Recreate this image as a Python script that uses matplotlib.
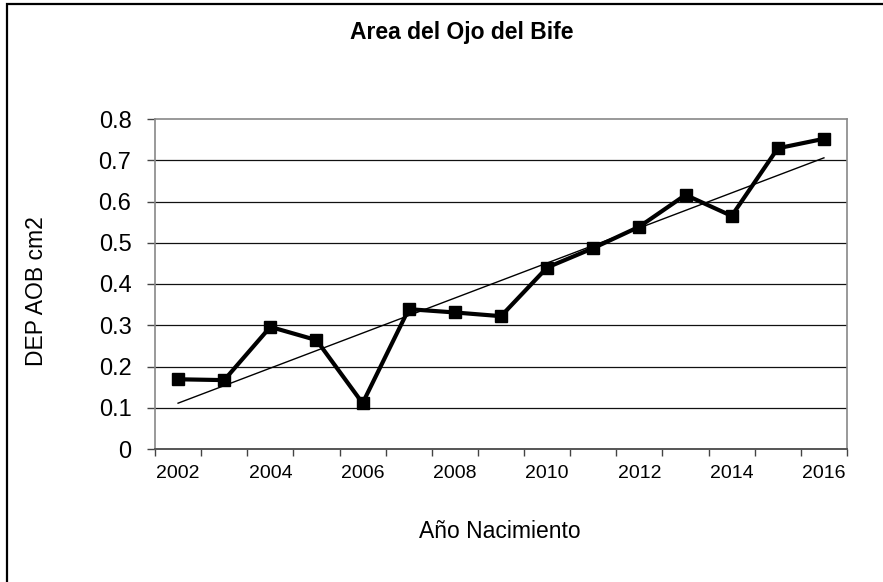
import numpy as np
import matplotlib
matplotlib.use("Agg")
import matplotlib.pyplot as plt
from matplotlib.patches import Rectangle

plt.rcParams['font.family'] = ['Liberation Sans', 'DejaVu Sans']

# data
years = [2002, 2003, 2004, 2005, 2006, 2007, 2008, 2009,
         2010, 2011, 2012, 2013, 2014, 2015, 2016]
dep_aob = [0.169, 0.167, 0.296, 0.264, 0.111, 0.339, 0.331, 0.322,
           0.440, 0.487, 0.539, 0.616, 0.565, 0.729, 0.752]
year_labels = ['2002', '2004', '2006', '2008', '2010', '2012', '2014', '2016']
y_ticks = [0, 0.1, 0.2, 0.3, 0.4, 0.5, 0.6, 0.7, 0.8]
y_labels = ['0', '0.1', '0.2', '0.3', '0.4', '0.5', '0.6', '0.7', '0.8']

W, H = 883, 582
fig = plt.figure(figsize=(W / 100, H / 100), dpi=100)
ax = fig.add_axes([155 / W, 1 - 449 / H, (847 - 155) / W, (449 - 119) / H])

# category axis like excel
x = np.arange(len(years))
coef = np.polyfit(x, dep_aob, 1)
trend = np.polyval(coef, x[[0, -1]])

# gridlines (top one is the frame)
for v in y_ticks[1:-1]:
    ax.axhline(v, color='#111111', lw=0.9, zorder=1)

ax.plot(x[[0, -1]], trend, color='black', lw=1.0, zorder=3)
ax.plot(x, dep_aob, color='black', lw=3.0, marker='s', markersize=8.5,
        zorder=4)

ax.set_xlim(-0.5, len(years) - 0.5)
ax.set_ylim(0, 0.8)

# ticks at category boundaries, labels every other year
ax.set_xticks(np.arange(-0.5, len(years), 1.0))
ax.set_xticklabels([])
ax.set_xticks(x[::2], minor=True)
ax.set_xticklabels(year_labels, minor=True, fontsize=14)
ax.tick_params(axis='x', which='major', length=5, width=1, color='#444444')
ax.tick_params(axis='x', which='minor', length=0, pad=11.5)

ax.set_yticks(y_ticks)
ax.set_yticklabels(y_labels, fontsize=17)
ax.tick_params(axis='y', length=6, width=1, color='#444444', pad=11)

for s in ['left', 'top', 'right']:
    ax.spines[s].set_color('#888888')
    ax.spines[s].set_linewidth(1.2)
ax.spines['bottom'].set_color('#555555')
ax.spines['bottom'].set_linewidth(1.4)

fig.text(462 / W, 1 - 32 / H, 'Area del Ojo del Bife', fontsize=16.5,
         fontweight='bold', ha='center', va='center')
fig.text(500 / W, 1 - 531 / H, 'Año Nacimiento', fontsize=16.5,
         ha='center', va='center')
fig.text(37 / W, 1 - 291 / H, 'DEP AOB cm2', fontsize=16.5, rotation=90,
         ha='center', va='center')

# outer chart border (right and bottom run off the picture)
fig.patches.append(Rectangle((7 / W, -0.1), 1.2, 1.1 - 3.5 / H,
                             transform=fig.transFigure, fill=False,
                             edgecolor='black', lw=1.6))

fig.savefig('out.png', dpi=100)
